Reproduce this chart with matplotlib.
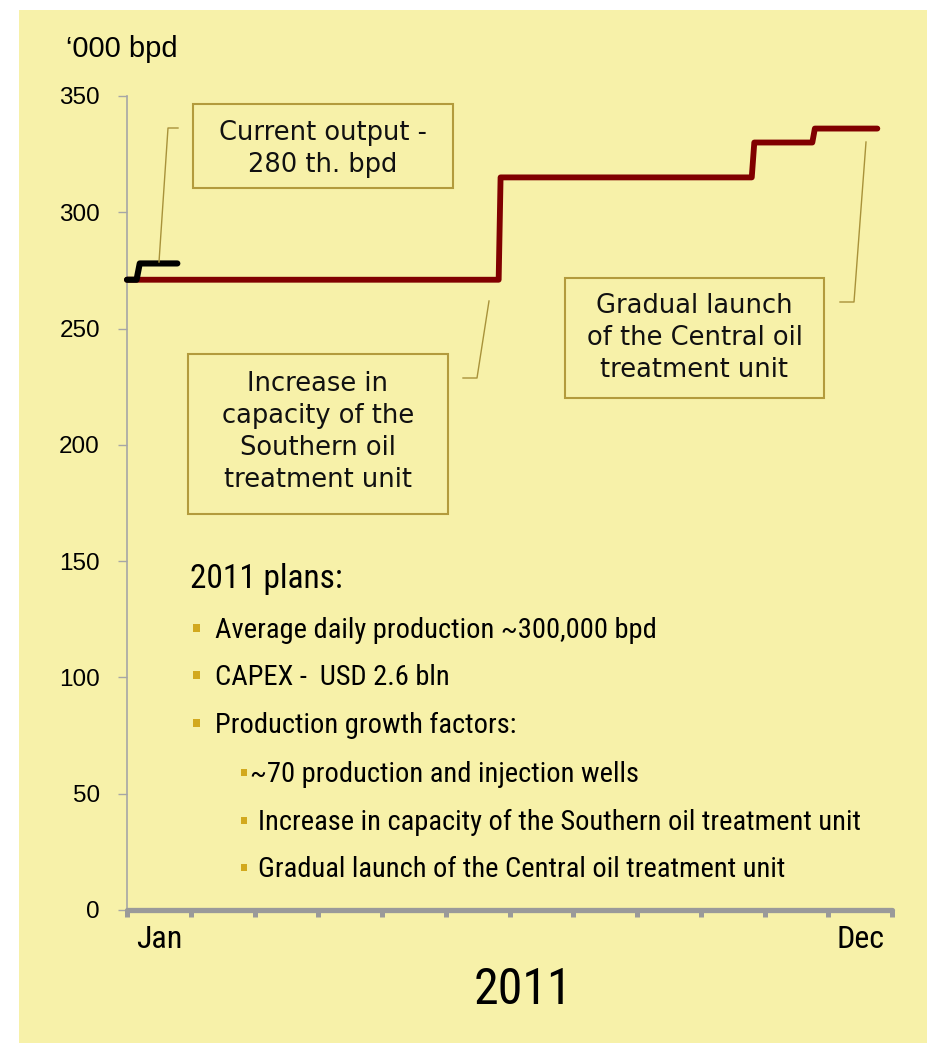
import matplotlib
matplotlib.use("Agg")
import matplotlib.pyplot as plt
from matplotlib import font_manager
from matplotlib.patches import Rectangle
from matplotlib.lines import Line2D

# ---------------- data ----------------
months = ['Jan', 'Feb', 'Mar', 'Apr', 'May', 'Jun', 'Jul', 'Aug', 'Sep', 'Oct', 'Nov', 'Dec']
shown_month_labels = ['Jan', 'Dec']
y_ticks = [0, 50, 100, 150, 200, 250, 300, 350]

# plan (dark red) - position in months from start of year, '000 bpd
plan_x = [0, 5.83, 5.86, 9.80, 9.84, 10.75, 10.79, 11.77]
plan_y = [271, 271, 315, 315, 330, 330, 336, 336]

# current output (black)
current_x = [0, 0.15, 0.20, 0.79]
current_y = [271, 271, 278, 278]

unit_label = "\u2018000 bpd"
year_label = "2011"
box_texts = [
    ["Current output -", "280 th. bpd"],
    ["Increase in", "capacity of the", "Southern oil", "treatment unit"],
    ["Gradual launch", "of the Central oil", "treatment unit"],
]
plans_title = "2011 plans:"
plans_items = [
    "Average daily production ~300,000 bpd",
    "CAPEX -  USD 2.6 bln",
    "Production growth factors:",
]
plans_subitems = [
    "~70 production and injection wells",
    "Increase in capacity of the Southern oil treatment unit",
    "Gradual launch of the Central oil treatment unit",
]

# ---------------- fonts ----------------
names = {f.name for f in font_manager.fontManager.ttflist}
narrow = 'Liberation Sans'
for cand in ['Liberation Sans Narrow', 'Arial Narrow', 'DejaVu Sans Condensed', 'Roboto Condensed']:
    if cand in names:
        narrow = cand
        break
plt.rcParams['font.family'] = ['Liberation Sans', 'DejaVu Sans']

W, H = 928, 1043
fig = plt.figure(figsize=(W / 100, H / 100), dpi=100, facecolor='white')

def fx(x):
    return x / W

def fy(y):
    return 1 - y / H

BG = '#F7F1A9'
fig.patches.append(Rectangle((fx(19), 0), 1, fy(10), transform=fig.transFigure,
                             facecolor=BG, edgecolor='none', zorder=-5))

ax_left, ax_right, ax_top, ax_bottom = 127, 892, 96, 910
ax = fig.add_axes([fx(ax_left), fy(ax_bottom), fx(ax_right - ax_left), (ax_bottom - ax_top) / H])
ax.set_facecolor('none')
ax.set_xlim(0, 12)
ax.set_ylim(0, 350)

for s in ['top', 'right']:
    ax.spines[s].set_visible(False)
ax.spines['left'].set_color('#A6A6A6')
ax.spines['left'].set_linewidth(1.2)
ax.spines['bottom'].set_color('#9A9A9A')
ax.spines['bottom'].set_linewidth(3.8)
ax.spines['bottom'].set_capstyle('round')

ax.set_yticks(y_ticks)
ax.set_yticklabels([str(v) for v in y_ticks])
ax.tick_params(axis='y', direction='out', length=6.5, width=1, color='#A6A6A6',
               labelsize=17.5, pad=13, labelcolor='black')

ax.set_xticks(range(len(months) + 1))
ax.set_xticklabels([''] * (len(months) + 1))
ax.tick_params(axis='x', which='major', direction='out', length=5, width=3.6, color='#9A9A9A')
ax.set_xticks([0.5, len(months) - 0.5], minor=True)
ax.set_xticklabels(shown_month_labels, minor=True)
ax.tick_params(axis='x', which='minor', length=0, pad=11, labelsize=23)
for lab in ax.get_xticklabels(minor=True):
    lab.set_family(narrow)

ax.plot(plan_x, plan_y, color='#800000', lw=4.2, solid_capstyle='round',
        solid_joinstyle='round', zorder=3, clip_on=False)
ax.plot(current_x, current_y, color='black', lw=4.4, solid_capstyle='round',
        solid_joinstyle='round', zorder=4, clip_on=False)

# unit label
fig.text(fx(66), fy(57), unit_label, fontsize=21, ha='left', va='baseline')

# year label
fig.text(fx(523), fy(1004), year_label, fontsize=36, family=narrow, ha='center', va='baseline')

# annotation boxes
BOX_EC = '#B39B3C'
boxes = [
    (193, 104, 453, 188, 323, [140, 172]),
    (188, 354, 448, 514, 318, [391, 423, 455, 487]),
    (565, 278, 824, 398, 694.5, [313, 345, 377]),
]
for (x0, y0, x1, y1, cx, baselines), lines in zip(boxes, box_texts):
    fig.patches.append(Rectangle((fx(x0), fy(y1)), fx(x1 - x0), (y1 - y0) / H,
                                 transform=fig.transFigure, facecolor='none',
                                 edgecolor=BOX_EC, lw=1.5, zorder=2))
    for line, bl in zip(lines, baselines):
        fig.text(fx(cx), fy(bl), line, fontsize=18.5, family='DejaVu Sans',
                 ha='center', va='baseline', color='#111111')

# leader lines
LEAD = '#A8923A'
leaders = [
    [(178, 128), (168, 128), (159, 262)],
    [(463, 378), (477, 378), (489, 301)],
    [(840, 302), (854, 302), (866, 142)],
]
for pts in leaders:
    fig.lines.append(Line2D([fx(p[0]) for p in pts], [fy(p[1]) for p in pts],
                            transform=fig.transFigure, color=LEAD, lw=1.0, zorder=2))

# plans text block
BUL = '#D2A91E'
fig.text(fx(190), fy(588), plans_title, fontsize=24, family=narrow, ha='left', va='baseline')
item_baselines = [638, 685, 733]
for txt, bl in zip(plans_items, item_baselines):
    fig.patches.append(Rectangle((fx(193), fy(bl - 6)), fx(7), 8 / H, transform=fig.transFigure,
                                 facecolor=BUL, edgecolor='none'))
    fig.text(fx(215), fy(bl), txt, fontsize=20.5, family=narrow, ha='left', va='baseline')
sub_baselines = [782, 830, 877]
sub_x = [250, 258, 258]
for txt, bl, tx in zip(plans_subitems, sub_baselines, sub_x):
    fig.patches.append(Rectangle((fx(241), fy(bl - 6)), fx(6), 7 / H, transform=fig.transFigure,
                                 facecolor=BUL, edgecolor='none'))
    fig.text(fx(tx), fy(bl), txt, fontsize=20.5, family=narrow, ha='left', va='baseline')

fig.savefig('out.png', dpi=100, facecolor='white')
